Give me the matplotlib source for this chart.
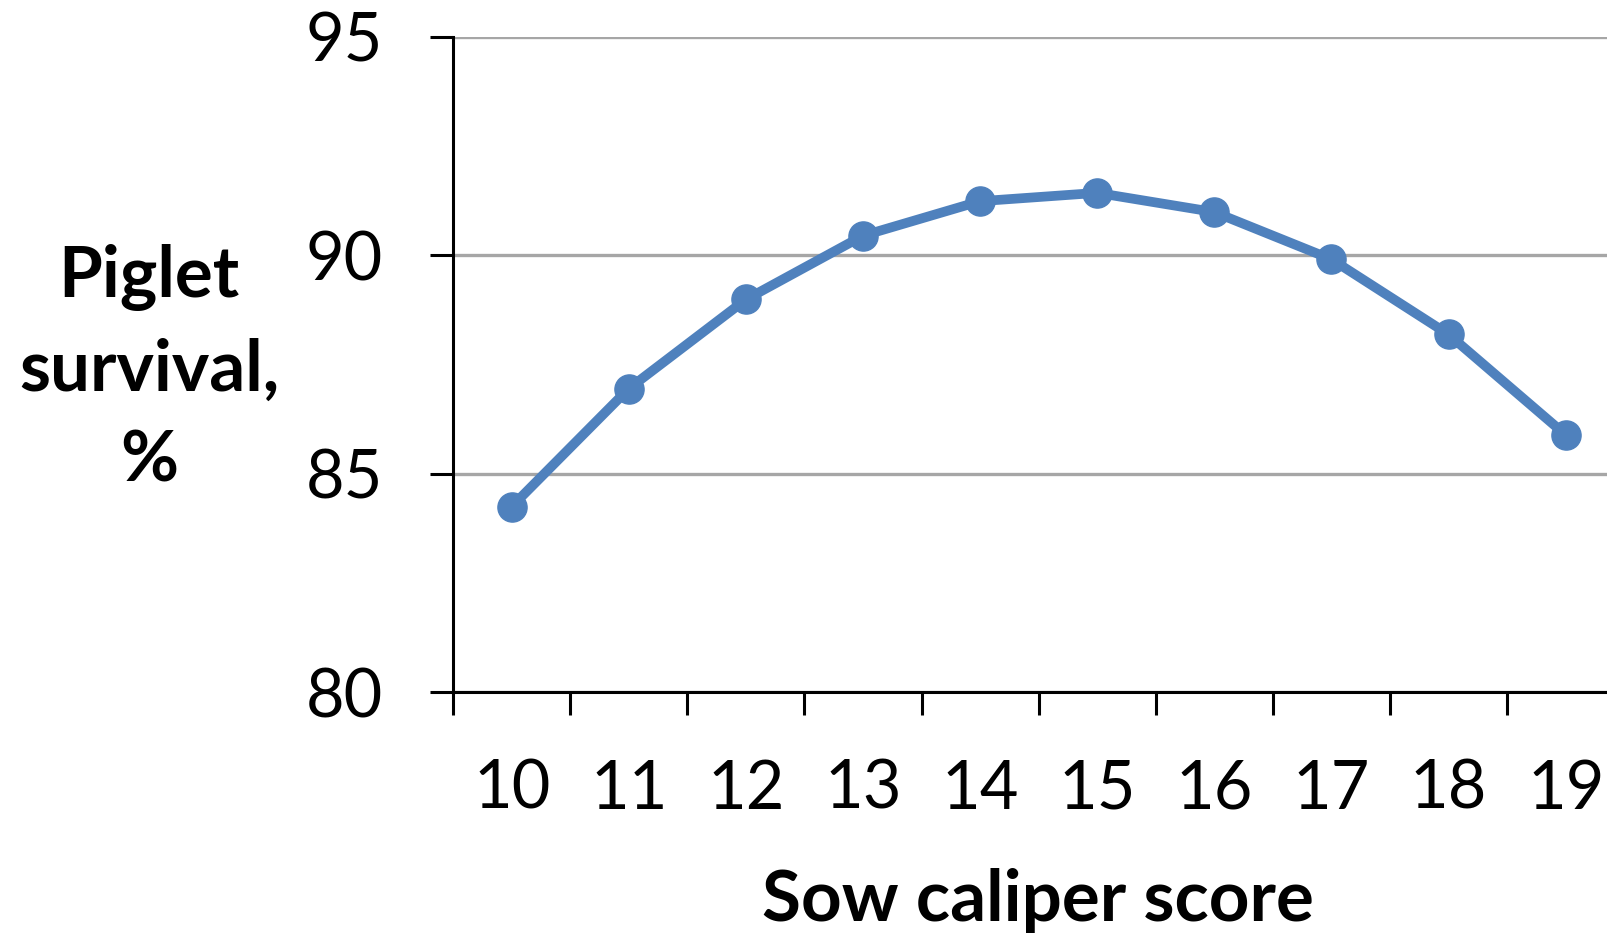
import matplotlib.pyplot as plt
import numpy as np

plt.rcParams['font.family'] = ['Lato', 'DejaVu Sans']

scores = ["10", "11", "12", "13", "14", "15", "16", "17", "18", "19"]
survival = [84.25, 86.95, 88.99, 90.45, 91.24, 91.43, 90.99, 89.91, 88.19, 85.89]
y_ticks = [80, 85, 90, 95]

fig = plt.figure(figsize=(16.08, 9.34), dpi=100)
ax = fig.add_axes([0.2818, 0.2588, 0.7283, 0.7017])

x = np.arange(len(scores)) + 0.5
ax.plot(x, survival, color="#4F81BD", lw=7, marker="o", ms=21, zorder=3)

ax.set_xlim(0, len(scores))
ax.set_ylim(80, 95)
ax.set_yticks(y_ticks)
ax.set_yticklabels([str(v) for v in y_ticks], fontsize=48)
ax.yaxis.grid(True, color="#A6A6A6", lw=2.4)
ax.set_axisbelow(True)

ax.set_xticks(np.arange(len(scores) + 1))
ax.set_xticklabels([])
ax.set_xticks(x, minor=True)
ax.set_xticklabels(scores, minor=True, fontsize=48)
ax.tick_params(axis="x", which="major", length=16.5, width=2.2, direction="out")
ax.tick_params(axis="x", which="minor", length=0, pad=48)
ax.tick_params(axis="y", length=16.5, width=2.2, direction="out", pad=34)

for s in ["top", "right"]:
    ax.spines[s].set_visible(False)
for s in ["left", "bottom"]:
    ax.spines[s].set_linewidth(2.2)
    ax.spines[s].set_color("black")

fig.text(0.0927, 0.605, "Piglet\nsurvival,\n%", ha="center", va="center",
         fontsize=51, fontweight="bold", linespacing=1.5)
fig.text(0.6455, 0.036, "Sow caliper score", ha="center", va="center",
         fontsize=51, fontweight="bold")

fig.savefig("out.png", dpi=100)
